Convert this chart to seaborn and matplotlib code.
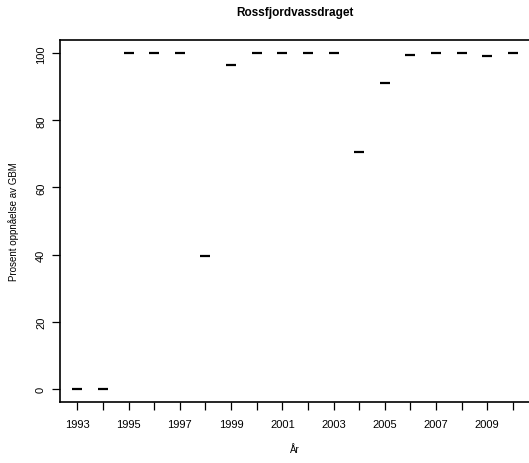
import seaborn as sns
import matplotlib.pyplot as plt
import pandas as pd

# data
years = list(range(1993, 2011))
percent = [0, 0, 100, 100, 100, 39.5, 96.6, 100, 100, 100, 100,
           70.6, 91.3, 99.6, 100, 100, 99.3, 100]
label_years = list(range(1993, 2011, 2))

df = pd.DataFrame({"year": years, "pct": percent})

sns.set_style("ticks")
plt.rcParams["font.family"] = ["Liberation Sans", "DejaVu Sans"]
plt.rcParams["font.stretch"] = "normal"
plt.rcParams["text.color"] = "black"
plt.rcParams["axes.labelcolor"] = "black"
plt.rcParams["xtick.color"] = "black"
plt.rcParams["ytick.color"] = "black"

fig = plt.figure(figsize=(5.29, 4.64), dpi=100)
ax = fig.add_axes([0.1134, 0.1315, 0.889, 0.7801])

sns.scatterplot(data=df, x="year", y="pct", marker="_", s=60,
                color="black", linewidth=1.6, ax=ax, legend=False)

ax.set_xlim(1992.32, 2010.68)
ax.set_ylim(-4, 104)
ax.set_xticks(years)
ax.set_xticklabels([str(y) if y in label_years else "" for y in years])
ax.set_yticks([0, 20, 40, 60, 80, 100])
ax.set_yticklabels(["0", "20", "40", "60", "80", "100"], rotation=90, va="center")
ax.tick_params(axis="both", labelsize=8, length=6, width=0.9, colors="black", pad=6)
ax.tick_params(axis="y", pad=4)

for s in ax.spines.values():
    s.set_linewidth(1.2)
    s.set_color("black")

ax.set_xlabel("År", fontsize=7, labelpad=11)
ax.set_ylabel("Prosent oppnåelse av GBM", fontsize=7, labelpad=12)
ax.set_title("Rossfjordvassdraget", fontsize=8.5, fontweight="bold", pad=18)

fig.savefig("out.png", dpi=100)
